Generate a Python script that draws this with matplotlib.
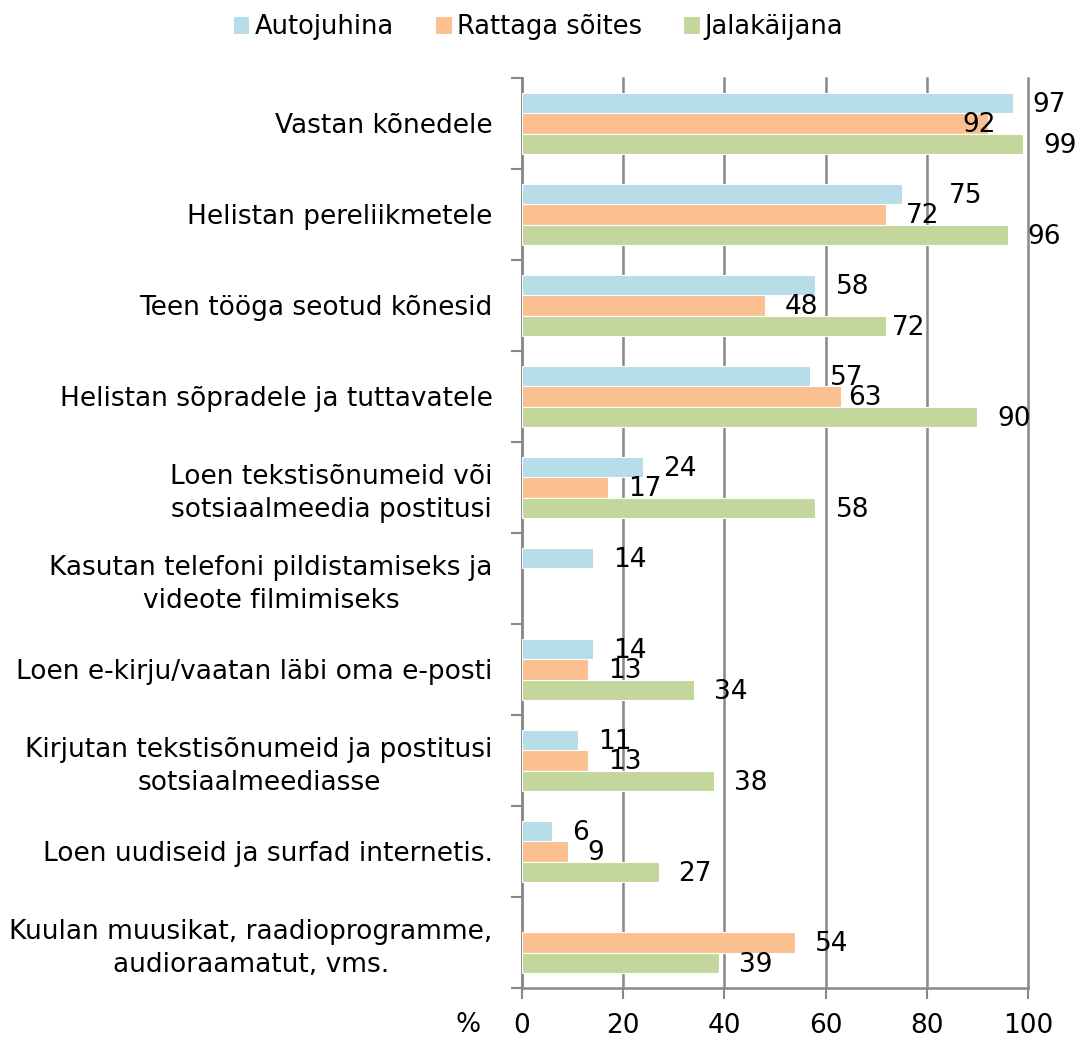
import matplotlib
matplotlib.use("Agg")
import matplotlib.pyplot as plt
import numpy as np

categories = [
    "Vastan kõnedele",
    "Helistan pereliikmetele",
    "Teen tööga seotud kõnesid",
    "Helistan sõpradele ja tuttavatele",
    "Loen tekstisõnumeid või\nsotsiaalmeedia postitusi",
    "Kasutan telefoni pildistamiseks ja\nvideote filmimiseks",
    "Loen e-kirju/vaatan läbi oma e-posti",
    "Kirjutan tekstisõnumeid ja postitusi\nsotsiaalmeediasse",
    "Loen uudiseid ja surfad internetis.",
    "Kuulan muusikat, raadioprogramme,\naudioraamatut, vms.",
]
series_names = ["Autojuhina", "Rattaga sõites", "Jalakäijana"]
autojuhina = [97, 75, 58, 57, 24, 14, 14, 11, 6, None]
rattaga = [92, 72, 48, 63, 17, None, 13, 13, 9, 54]
jalakaijana = [99, 96, 72, 90, 58, None, 34, 38, 27, 39]
x_ticks = [0, 20, 40, 60, 80, 100]

colors = ["#B7DDE8", "#FAC090", "#C3D69B"]
series = [autojuhina, rattaga, jalakaijana]

# label x offsets in pixels (style), default 20
label_dx = {(0, 1): -25, (1, 0): 47, (2, 2): 6, (3, 1): 7}

plt.rcParams['font.family'] = ['DejaVu Sans']
fig = plt.figure(figsize=(10.76, 10.39), dpi=100)
ax = fig.add_axes([522/1076, 1 - 988/1039, (1028-522)/1076, (988-78)/1039])

y = np.arange(len(categories))
h = 0.22
offs = [-h, 0, h]
fs = 19
for si, (vals, col, name) in enumerate(zip(series, colors, series_names)):
    for ci, v in enumerate(vals):
        if v is None:
            continue
        ax.barh(y[ci] + offs[si], v, height=h, color=col, edgecolor="white",
                linewidth=0.8, zorder=3, label=name if ci == 0 else None)
        dx = label_dx.get((ci, si), 20)
        ax.annotate(str(v), xy=(v, y[ci] + offs[si]), xytext=(dx, -2),
                    textcoords="offset pixels", ha="left", va="center",
                    fontsize=fs, color="black", zorder=4, annotation_clip=False)

ax.set_ylim(len(categories) - 0.5, -0.5)
ax.set_xlim(0, 100)
ax.set_xticks(x_ticks)
ax.set_xticklabels([str(t) for t in x_ticks], fontsize=fs)
ax.set_yticks(np.arange(len(categories) + 1) - 0.5, minor=False)
ax.set_yticklabels([])
ax.set_yticks(y, minor=True)
ax.set_yticklabels(categories, minor=True, fontsize=fs, multialignment="center",
                   linespacing=1.35)
ax.tick_params(axis="y", which="minor", length=0, pad=21)
ax.tick_params(axis="y", which="major", length=8, color="#888888", width=1.5)
ax.tick_params(axis="x", length=8, color="#888888", width=1.5, pad=10)
ax.grid(axis="x", color="#888888", linewidth=1.8, zorder=0)
for gl in ax.get_xgridlines():
    gl.set_clip_on(False)
for s in ["top", "right"]:
    ax.spines[s].set_visible(False)
for s in ["left", "bottom"]:
    ax.spines[s].set_color("#888888")
    ax.spines[s].set_linewidth(1.8)

fig.text(468/1076, 1 - 1025/1039, "%", fontsize=fs, ha="center", va="center")

handles, labels = ax.get_legend_handles_labels()
fig.legend(handles, labels, loc="center", bbox_to_anchor=(0.5, 1 - 27/1039),
           ncol=3, frameon=False, fontsize=18.5, handlelength=0.65, handleheight=0.7,
           handletextpad=0.2, columnspacing=1.6)

fig.savefig("out.png", dpi=100)
